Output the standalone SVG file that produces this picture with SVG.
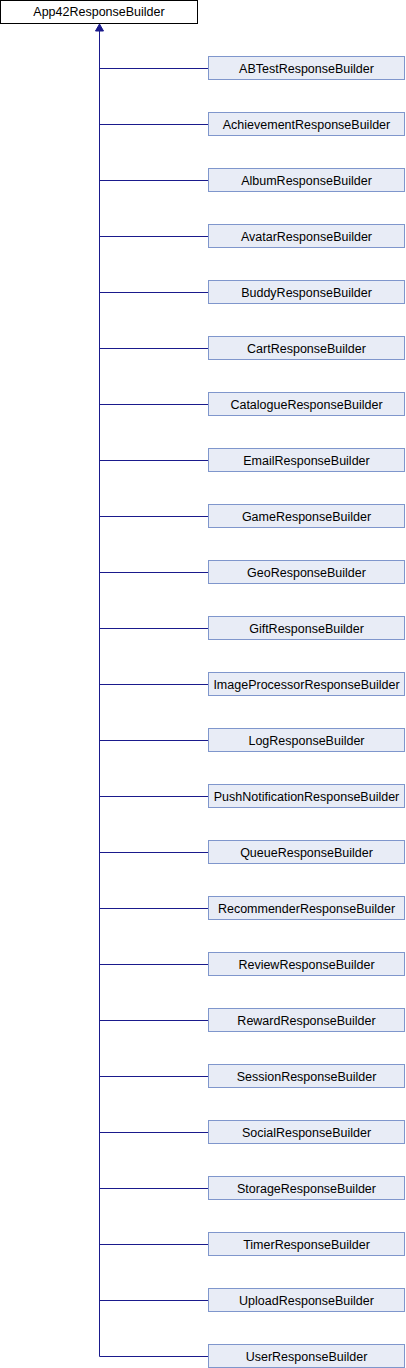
<svg xmlns="http://www.w3.org/2000/svg" width="406" height="1368" viewBox="0 0 406 1368">
<style>
.base rect{fill:#ffffff;stroke:#000000;stroke-width:1}
.child rect{fill:#e8ecf6;stroke:#7f96cc;stroke-width:1}
text{font-family:"Liberation Sans",Arial,sans-serif;font-size:12.5px;fill:#000000;text-anchor:middle}
.edge{stroke:#1a1a8c;stroke-width:1;fill:none}
</style>
<rect width="406" height="1368" fill="#ffffff"/>
<g id="connectors">
<path class="edge" d="M99.5 30V1356.5"/>
<polygon points="99.5,24 95.5,31 103.5,31" fill="#1a1a8c" stroke="#1a1a8c" stroke-width="1"/>
<path class="edge" d="M99.5 68.5H208.5M99.5 124.5H208.5M99.5 180.5H208.5M99.5 236.5H208.5M99.5 292.5H208.5M99.5 348.5H208.5M99.5 404.5H208.5M99.5 460.5H208.5M99.5 516.5H208.5M99.5 572.5H208.5M99.5 628.5H208.5M99.5 684.5H208.5M99.5 740.5H208.5M99.5 796.5H208.5M99.5 852.5H208.5M99.5 908.5H208.5M99.5 964.5H208.5M99.5 1020.5H208.5M99.5 1076.5H208.5M99.5 1132.5H208.5M99.5 1188.5H208.5M99.5 1244.5H208.5M99.5 1300.5H208.5M99.5 1356.5H208.5"/>
</g>
<g id="App42ResponseBuilder" class="base"><rect x="0.5" y="0.5" width="197" height="23"/><text x="99" y="16">App42ResponseBuilder</text></g>
<g id="ABTestResponseBuilder" class="child"><rect x="208.5" y="56.5" width="196" height="23"/><text x="306.5" y="72.5">ABTestResponseBuilder</text></g>
<g id="AchievementResponseBuilder" class="child"><rect x="208.5" y="112.5" width="196" height="23"/><text x="306.5" y="128.5">AchievementResponseBuilder</text></g>
<g id="AlbumResponseBuilder" class="child"><rect x="208.5" y="168.5" width="196" height="23"/><text x="306.5" y="184.5">AlbumResponseBuilder</text></g>
<g id="AvatarResponseBuilder" class="child"><rect x="208.5" y="224.5" width="196" height="23"/><text x="306.5" y="240.5">AvatarResponseBuilder</text></g>
<g id="BuddyResponseBuilder" class="child"><rect x="208.5" y="280.5" width="196" height="23"/><text x="306.5" y="296.5">BuddyResponseBuilder</text></g>
<g id="CartResponseBuilder" class="child"><rect x="208.5" y="336.5" width="196" height="23"/><text x="306.5" y="352.5">CartResponseBuilder</text></g>
<g id="CatalogueResponseBuilder" class="child"><rect x="208.5" y="392.5" width="196" height="23"/><text x="306.5" y="408.5">CatalogueResponseBuilder</text></g>
<g id="EmailResponseBuilder" class="child"><rect x="208.5" y="448.5" width="196" height="23"/><text x="306.5" y="464.5">EmailResponseBuilder</text></g>
<g id="GameResponseBuilder" class="child"><rect x="208.5" y="504.5" width="196" height="23"/><text x="306.5" y="520.5">GameResponseBuilder</text></g>
<g id="GeoResponseBuilder" class="child"><rect x="208.5" y="560.5" width="196" height="23"/><text x="306.5" y="576.5">GeoResponseBuilder</text></g>
<g id="GiftResponseBuilder" class="child"><rect x="208.5" y="616.5" width="196" height="23"/><text x="306.5" y="632.5">GiftResponseBuilder</text></g>
<g id="ImageProcessorResponseBuilder" class="child"><rect x="208.5" y="672.5" width="196" height="23"/><text x="306.5" y="688.5">ImageProcessorResponseBuilder</text></g>
<g id="LogResponseBuilder" class="child"><rect x="208.5" y="728.5" width="196" height="23"/><text x="306.5" y="744.5">LogResponseBuilder</text></g>
<g id="PushNotificationResponseBuilder" class="child"><rect x="208.5" y="784.5" width="196" height="23"/><text x="306.5" y="800.5">PushNotificationResponseBuilder</text></g>
<g id="QueueResponseBuilder" class="child"><rect x="208.5" y="840.5" width="196" height="23"/><text x="306.5" y="856.5">QueueResponseBuilder</text></g>
<g id="RecommenderResponseBuilder" class="child"><rect x="208.5" y="896.5" width="196" height="23"/><text x="306.5" y="912.5">RecommenderResponseBuilder</text></g>
<g id="ReviewResponseBuilder" class="child"><rect x="208.5" y="952.5" width="196" height="23"/><text x="306.5" y="968.5">ReviewResponseBuilder</text></g>
<g id="RewardResponseBuilder" class="child"><rect x="208.5" y="1008.5" width="196" height="23"/><text x="306.5" y="1024.5">RewardResponseBuilder</text></g>
<g id="SessionResponseBuilder" class="child"><rect x="208.5" y="1064.5" width="196" height="23"/><text x="306.5" y="1080.5">SessionResponseBuilder</text></g>
<g id="SocialResponseBuilder" class="child"><rect x="208.5" y="1120.5" width="196" height="23"/><text x="306.5" y="1136.5">SocialResponseBuilder</text></g>
<g id="StorageResponseBuilder" class="child"><rect x="208.5" y="1176.5" width="196" height="23"/><text x="306.5" y="1192.5">StorageResponseBuilder</text></g>
<g id="TimerResponseBuilder" class="child"><rect x="208.5" y="1232.5" width="196" height="23"/><text x="306.5" y="1248.5">TimerResponseBuilder</text></g>
<g id="UploadResponseBuilder" class="child"><rect x="208.5" y="1288.5" width="196" height="23"/><text x="306.5" y="1304.5">UploadResponseBuilder</text></g>
<g id="UserResponseBuilder" class="child"><rect x="208.5" y="1344.5" width="196" height="23"/><text x="306.5" y="1360.5">UserResponseBuilder</text></g>
</svg>
